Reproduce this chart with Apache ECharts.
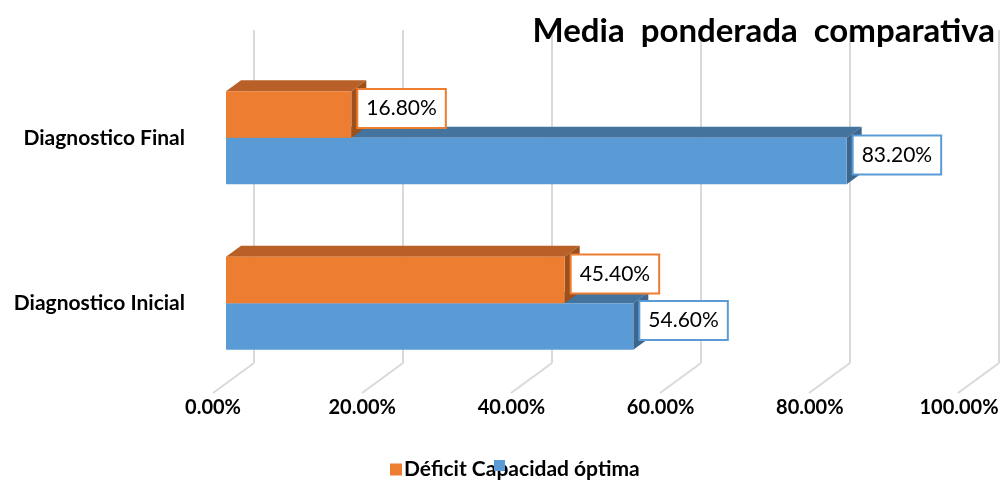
<!DOCTYPE html>
<html>
<head>
<meta charset="utf-8">
<script src="https://cdn.jsdelivr.net/npm/echarts@6/dist/echarts.min.js"></script>
<style>
  html, body { margin: 0; padding: 0; background: #fff; }
  #chart { width: 1005px; height: 482px; }
</style>
</head>
<body>
<div id="chart"></div>
<script>
// datos del grafico
var categories = ["Diagnostico Inicial", "Diagnostico Final"];
var deficit = [45.4, 16.8];
var capacidad = [54.6, 83.2];
var xTicks = [0, 20, 40, 60, 80, 100];

var chart = echarts.init(document.getElementById("chart"));

// profundidad de las barras 3D (px)
var DX = 15, DY = 11;

function barItem(color, top, side, upper) {
  return function (params, api) {
    var idx = api.value(0);
    var val = api.value(1);
    var start = api.coord([0, idx]);
    var end = api.coord([val, idx]);
    var band = api.size([0, 1])[1];
    var h = band * 0.281;
    var x0 = start[0], x1 = end[0];
    var y0 = upper ? start[1] - h : start[1];
    var y1 = y0 + h;
    var cy = (y0 + y1) / 2;
    return {
      type: "group",
      children: [
        {
          type: "polygon",
          shape: { points: [[x0, y0], [x1, y0], [x1 + DX, y0 - DY], [x0 + DX, y0 - DY]] },
          style: { fill: top }
        },
        {
          type: "polygon",
          shape: { points: [[x1, y0], [x1 + DX, y0 - DY], [x1 + DX, y1 - DY], [x1, y1]] },
          style: { fill: side }
        },
        {
          type: "rect",
          shape: { x: x0, y: y0, width: x1 - x0, height: h },
          style: { fill: color }
        },
        {
          type: "text",
          x: x1 + 7,
          y: cy - 6,
          style: {
            text: val.toFixed(2) + "%",
            fontSize: 21,
            fontFamily: "Lato",
            fill: "#000",
            backgroundColor: "#fff",
            borderColor: color,
            borderWidth: 2,
            padding: [8, 8, 8, 8],
            align: "left",
            verticalAlign: "middle"
          }
        }
      ]
    };
  };
}

var option = {
  animation: false,
  title: {
    text: "Media  ponderada  comparativa",
    right: 5,
    top: 10,
    textStyle: { fontFamily: "Lato", fontWeight: "bold", fontSize: 33, color: "#000" }
  },
  legend: [
    {
      data: ["Déficit"],
      left: 385,
      top: 454,
      z: 3,
      itemWidth: 12,
      itemHeight: 12,
      icon: "rect",
      formatter: function (name) { return name + " Capacidad óptima"; },
      textStyle: { fontFamily: "Lato", fontWeight: "bold", fontSize: 21, color: "#000", padding: [0, 0, 0, -3] }
    },
    {
      data: ["Capacidad óptima"],
      left: 489,
      top: 455,
      z: 6,
      itemWidth: 11,
      itemHeight: 11,
      icon: "rect",
      formatter: function () { return ""; }
    }
  ],
  grid: [
    { left: 226, right: 33, top: 55, bottom: 96 },
    { left: 254, right: 6, top: 30, bottom: 119 }
  ],
  xAxis: [
    {
      gridIndex: 0,
      type: "value",
      min: 0,
      max: 100,
      interval: 20,
      axisLine: { show: false },
      axisTick: { show: false },
      splitLine: { show: false },
      axisLabel: {
        margin: 12,
        padding: [0, 26, 0, 0],
        fontFamily: "Lato",
        fontWeight: "bold",
        fontSize: 20,
        color: "#000",
        formatter: function (v) { return v.toFixed(2) + "%"; }
      }
    },
    {
      gridIndex: 1,
      type: "value",
      min: 0,
      max: 100,
      interval: 20,
      axisLine: { show: false },
      axisTick: { show: false },
      axisLabel: { show: false },
      splitLine: { lineStyle: { color: "#d9d9d9", width: 2 } }
    }
  ],
  yAxis: [
    {
      gridIndex: 0,
      type: "category",
      data: categories,
      axisLine: { show: false },
      axisTick: { show: false },
      axisLabel: {
        margin: 41,
        fontFamily: "Lato",
        fontWeight: "bold",
        fontSize: 21,
        color: "#000"
      }
    },
    {
      gridIndex: 1,
      type: "value",
      min: 0,
      max: 1,
      show: false
    }
  ],
  series: [
    {
      // lineas del piso
      type: "custom",
      xAxisIndex: 1,
      yAxisIndex: 1,
      silent: true,
      data: xTicks.map(function (t) { return [t, 0]; }),
      renderItem: function (params, api) {
        var p = api.coord([api.value(0), 0]);
        return {
          type: "line",
          shape: { x1: p[0], y1: p[1], x2: p[0] - 41, y2: p[1] + 30 },
          style: { stroke: "#d9d9d9", lineWidth: 2 }
        };
      }
    },
    {
      name: "Capacidad óptima",
      type: "custom",
      xAxisIndex: 0,
      yAxisIndex: 0,
      itemStyle: { color: "#5b9bd5" },
      data: capacidad.map(function (v, i) { return [i, v]; }),
      renderItem: barItem("#5b9bd5", "#44739e", "#3c668e", false)
    },
    {
      name: "Déficit",
      type: "custom",
      xAxisIndex: 0,
      yAxisIndex: 0,
      itemStyle: { color: "#ed7d31" },
      data: deficit.map(function (v, i) { return [i, v]; }),
      renderItem: barItem("#ed7d31", "#b86027", "#9e501c", true)
    }
  ]
};

chart.setOption(option);
</script>
</body>
</html>
